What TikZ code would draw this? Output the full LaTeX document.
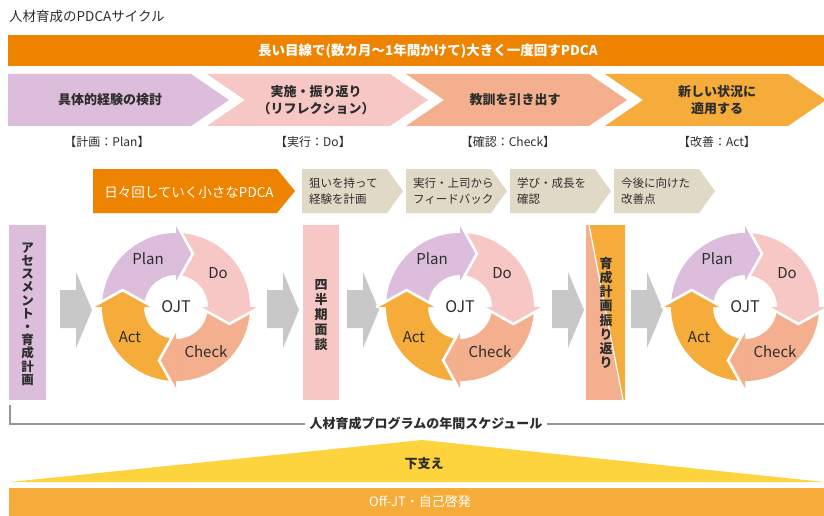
\documentclass[tikz,border=0pt]{standalone}
\usepackage{fontspec}
\setmainfont{Noto Sans CJK JP}
\definecolor{cOrange}{RGB}{238,131,0}
\definecolor{cPurple}{RGB}{220,190,220}
\definecolor{cPink}{RGB}{246,199,196}
\definecolor{cSalmon}{RGB}{244,176,142}
\definecolor{cAmber}{RGB}{245,172,58}
\definecolor{cBeige}{RGB}{224,217,197}
\definecolor{cGray}{RGB}{200,200,200}
\definecolor{cYellow}{RGB}{253,211,62}
\definecolor{cText}{RGB}{45,45,45}
\definecolor{cLine}{RGB}{150,150,150}
\newcommand\fsz[2]{\fontsize{#1}{#2}\selectfont}
\begin{document}
\begin{tikzpicture}[x=1pt,y=-1pt,
  every node/.style={inner sep=0pt, text=cText},
  chevtxt/.style={font=\fsz{13}{17}\bfseries, align=center},
  sublbl/.style={font=\fsz{12}{14}},
  beigetxt/.style={font=\fsz{11.5}{16.5}, align=left, anchor=west},
  vtxt/.style={font=\fsz{12.5}{13.2}\bfseries, align=center},
  cyclbl/.style={font=\fsz{15}{17}},
  headedge/.style={draw=white, line width=2.6pt, line join=miter},
  grayarrow/.style={fill=cGray}
]
\useasboundingbox (0,0) rectangle (824,516);
\fill[white] (0,0) rectangle (824,516);

% title
\node[anchor=west, font=\fsz{13.5}{16}] (title) at (9,16) {人材育成のPDCAサイクル};

% top banner
\fill[cOrange] (8,35) rectangle (824,66);
\node[font=\fsz{13.5}{16}\bfseries, text=white] (banner) at (428,51) {長い目線で(数カ月〜1年間かけて)大きく一度回すPDCA};

% big chevrons
\foreach \L/\col/\n in {8/cPurple/0, 207/cPink/1, 406/cSalmon/1, 605/cAmber/1}{
  \fill[\col] (\L,74) -- ({\L+183},74) -- ({\L+221},100) -- ({\L+183},126) -- (\L,126) -- ({\L+\n*38},100) -- cycle;
}
\node[chevtxt] (c1) at (110,100) {具体的経験の検討};
\node[chevtxt] (c2) at (316,100) {実施・振り返り\\（リフレクション）};
\node[chevtxt] (c3) at (515,100) {教訓を引き出す};
\node[chevtxt] (c4) at (717,100) {新しい状況に\\適用する};

\node[sublbl] (l1) at (107,142) {【計画：Plan】};
\node[sublbl] (l2) at (313,142) {【実行：Do】};
\node[sublbl] (l3) at (508,142) {【確認：Check】};
\node[sublbl] (l4) at (717,142) {【改善：Act】};

% small PDCA chevron
\fill[cOrange] (93,169) -- (277,169) -- (295,191) -- (277,213) -- (93,213) -- cycle;
\node[font=\fsz{13.5}{16}, text=white] (small) at (189,192) {日々回していく小さなPDCA};

% beige chevrons
\foreach \L/\a/\b in {302/狙いを持って/経験を計画, 406/実行・上司から/フィードバック, 510/学び・成長を/確認, 614/今後に向けた/改善点}{
  \fill[cBeige] (\L,169) -- ({\L+85},169) -- ({\L+101},191) -- ({\L+85},213) -- (\L,213) -- cycle;
  \node[beigetxt] (b\L) at ({\L+7},191) {\a\\\b};
}

% vertical bars
\fill[cPurple] (9,225) rectangle (46,400);
\node[vtxt] (v1) at (27.5,314) {ア\\セ\\ス\\メ\\ン\\ト\\・\\育\\成\\計\\画};
\fill[cPink] (303,225) rectangle (339,400);
\node[vtxt, font=\fsz{13}{15}\bfseries] (v2) at (321,315) {四\\半\\期\\面\\談};
\fill[cSalmon] (586,225) rectangle (625,400);
\fill[cAmber] (589,225) -- (625,225) -- (625,400) -- (623,400) -- cycle;
\draw[white, line width=1.2pt] (589,225) -- (623,400);
\node[vtxt, font=\fsz{13}{14.2}\bfseries] (v3) at (606,313) {育\\成\\計\\画\\振\\り\\返\\り};

% gray arrows
\foreach \x in {60,267,347,552,631}{
  \fill[grayarrow] (\x,290) -- ({\x+16},290) -- ({\x+16},272) -- ({\x+32},310) -- ({\x+16},348) -- ({\x+16},328) -- (\x,328) -- cycle;
}

% OJT cycles
\foreach \cx in {176,460,745}{
\begin{scope}[shift={(\cx,307)}]
  \fill[cPurple] (180:74) arc[start angle=180,end angle=270,radius=74] -- (270:32) arc[start angle=270,end angle=180,radius=32] -- cycle;
  \fill[cPink] (270:74) arc[start angle=270,end angle=360,radius=74] -- (0:32) arc[start angle=360,end angle=270,radius=32] -- cycle;
  \fill[cSalmon] (0:74) arc[start angle=0,end angle=90,radius=74] -- (90:32) arc[start angle=90,end angle=0,radius=32] -- cycle;
  \fill[cAmber] (90:74) arc[start angle=90,end angle=180,radius=74] -- (180:32) arc[start angle=180,end angle=90,radius=32] -- cycle;
  \foreach \b/\c in {270/cPurple,0/cPink,90/cSalmon,180/cAmber}{
    \fill[\c] (\b:84) -- ({\b+17.6}:56) -- (\b:23) -- cycle;
    \draw[headedge] (\b:84) -- ({\b+17.6}:56) -- (\b:23);
  }
  \node[cyclbl] (plan\cx) at (-28,-48) {Plan};
  \node[cyclbl] (do\cx) at (42,-34) {Do};
  \node[cyclbl] (check\cx) at (30,45) {Check};
  \node[cyclbl] (act\cx) at (-46,30) {Act};
  \node[font=\fsz{16}{18}] (ojt\cx) at (0,0) {OJT};
\end{scope}
}

% schedule bracket
\node[font=\fsz{13}{15}\bfseries, inner xsep=4pt] (sched) at (426,424) {人材育成プログラムの年間スケジュール};
\draw[cLine, line width=1.1pt] (10,405) -- (10,424) -- (sched.west);
\draw[cLine, line width=1.1pt] (sched.east) -- (824,424);

% support triangle and bar
\fill[cYellow] (10,482) -- (422,440) -- (824,482) -- cycle;
\node[font=\fsz{13}{15}\bfseries] (shita) at (424,464) {下支え};
\fill[cAmber] (9,488) rectangle (824,516);
\node[font=\fsz{13}{15}, text=white] (offjt) at (420,502) {Off-JT・自己啓発};
\end{tikzpicture}
\end{document}
